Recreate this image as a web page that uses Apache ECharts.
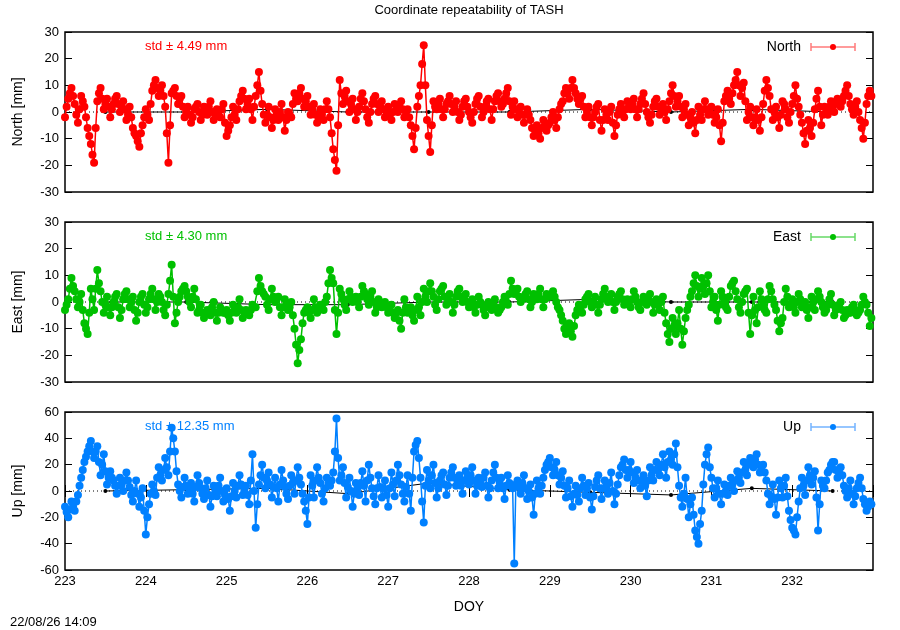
<!DOCTYPE html>
<html>
<head>
<meta charset="utf-8">
<title>Coordinate repeatability of TASH</title>
<script src="https://cdn.jsdelivr.net/npm/echarts@6/dist/echarts.min.js"></script>
<style>
    html, body {margin: 0; padding: 0; background: #fff;}
    #chart {width: 900px; height: 630px;}
</style>
</head>
<body>
<div id="chart"></div>
<script>
// sampling: 25 values per day at DOY + k*0.04 (arrays nXXX),
// plus 25 values per day at the half steps DOY + k*0.04 + 0.02 (arrays nXXXb)
var startDoy = 223;
var step = 0.04;

// North [mm]
var n223 = [-2, 5, 9, 3, -4, 6, 2, -6, -12, -19, 4, 9, 1, 5, -2, 3, 6, 0, 4, -3, 2, -6, -9, -13, -5];
var n223b = [2, 7, 6, -1, 1, 4, -2, -9, -16, -6, 7, 5, 3, 2, 1, 5, 3, 2, 1, -1, -2, -8, -11, -8, -2];
var n224 = [1, -3, 8, 12, 6, 10, 2, -19, 7, 9, 3, 6, -2, 2, -4, 1, 3, -3, 2, -1, 4, -3, 1, -2, 3];
var n224b = [-1, 3, 10, 9, 8, 6, -8, -5, 8, 6, 5, 2, 0, -1, -2, 2, 0, -1, 1, 2, 0, -1, -1, 1, -4];
var n225 = [-9, -5, 2, -3, 4, 8, 1, 5, -3, 6, 15, 3, -4, 2, -6, 1, -3, 3, -7, 0, -2, 7, 4, 9, 2];
var n225b = [-7, -2, -1, 1, 6, 5, 3, 1, 2, 10, 8, -1, -1, -2, -3, -1, 0, -2, -3, -1, 3, 5, 7, 5, 4];
var n226 = [6, -1, 3, -4, 1, -3, 4, -2, -14, -22, 12, 3, 8, 0, 5, -3, 2, 7, 1, -4, 3, 6, 0, 4, -2];
var n226b = [2, 1, -1, -2, -1, 1, 1, -8, -18, -5, 7, 6, 4, 3, 1, 0, 5, 4, -2, 0, 5, 3, 2, 1, 0];
var n227 = [2, -3, 3, 0, 4, -2, 1, -5, -14, 2, 10, 25, -3, -15, 4, 1, 5, -2, 3, 6, 0, 4, -3, 2, 5];
var n227b = [-1, 0, 1, 2, 1, -1, -2, -9, -6, 6, 18, 10, -9, -5, 2, 3, 1, 1, 4, 3, 2, 0, -1, 4, 2];
var n228 = [0, -4, 3, 6, -2, 2, 5, -3, 4, 7, 2, 5, 9, -1, 4, -2, 2, -4, 1, -3, -9, -5, -10, -3, -7];
var n228b = [-2, 0, 5, 2, 0, 4, 1, 1, 6, 4, 3, 7, 4, 2, 1, 0, -1, -1, -1, -6, -7, -8, -6, -5, -5];
var n229 = [-4, 0, -6, 1, 4, 9, 5, 12, 7, 3, 6, -2, 2, -5, 0, 3, -7, 1, -3, 2, -9, -1, 3, -2, 4];
var n229b = [-2, -3, -2, 3, 7, 7, 9, 9, 5, 5, 2, 0, -2, -2, 2, -3, -3, -1, 0, -4, -5, 1, 0, 1, 2];
var n230 = [1, 5, -2, 3, 7, 0, -4, 2, 5, -1, 3, -3, 4, 10, 2, 6, -2, 3, -5, 0, -8, 2, -3, 4, -1];
var n230b = [3, 1, 1, 5, 3, -2, -1, 4, 2, 1, 0, 1, 7, 6, 4, 2, 1, -1, -2, -4, -3, -1, 1, 1, 1];
var n231 = [2, -4, 1, -11, 4, 8, 3, 10, 15, 6, 11, -3, 2, -5, 1, -7, 3, 12, 6, -3, 2, -6, 4, 1, -4];
var n231b = [-1, -2, -5, -4, 6, 5, 7, 12, 10, 9, 4, 0, -2, -2, -3, -2, 8, 9, 1, 0, -2, -1, 3, -2, 0];
var n232 = [3, 10, 2, -4, -12, -3, -9, 1, 8, -5, 2, -1, 4, 0, 5, 2, 6, 10, 3, -1, 4, -3, -10, 3, 8];
var n232b = [6, 5, -1, -8, -7, -6, -4, 5, 2, -1, 0, 2, 1, 3, 3, 4, 8, 6, 1, 2, 0, -6, -4, 6, 6];

// East [mm]
var e223 = [-3, 1, 9, 4, -2, 3, -8, -12, 5, -3, 12, 4, -4, 2, -5, 0, 3, -6, 1, 4, -2, 2, -7, 0, 3];
var e223b = [-1, 5, 6, 1, 0, -3, -10, -4, 1, 5, 7, 0, -1, -2, -2, 2, -2, -3, 3, 1, 0, -3, -4, 2, -1];
var e224 = [-4, 1, 5, -3, 3, 0, -5, 3, 14, -8, 0, 4, 6, 2, -2, 5, -4, -1, -6, -3, -5, 0, -7, -2, -4];
var e224b = [-2, 3, 1, 0, 2, -3, -1, 8, 2, -4, 2, 5, 4, 0, 2, 1, -3, -4, -4, -4, -2, -4, -4, -3, -4];
var e225 = [-3, -7, -1, -4, 1, -6, -3, -5, -1, -2, 9, 4, 2, -3, 5, 0, 2, -5, 1, -3, 0, -10, -23, -14, -4];
var e225b = [-5, -4, -3, -2, -3, -4, -4, -3, -2, 4, 6, 3, -1, 1, 2, 1, -2, -2, -1, -2, -5, -16, -18, -8, -3];
var e226 = [-2, -6, 1, -4, -1, -3, 2, 12, 7, -12, 5, 1, -3, 4, 0, 2, -2, 6, 3, -1, 4, -4, 1, -2, 0];
var e226b = [-4, -3, -2, -3, -2, 0, 7, 9, -3, -4, 3, -1, 1, 2, 1, 0, 2, 4, 1, 2, 0, -2, 0, -1, -2];
var e227 = [-4, -1, -6, -3, -10, 1, -4, -2, -7, 2, -5, 5, 0, 7, 2, -3, 4, 6, -1, 3, -4, 2, 5, 0, 3];
var e227b = [-2, -4, -4, -7, -4, -2, -3, -5, -3, -2, 0, 2, 4, 4, -1, 1, 5, 2, 1, 0, -1, 4, 2, 1, 0];
var e228 = [-2, 1, -4, 2, -1, -5, 0, -3, 1, -4, -2, 2, -1, 8, 3, 5, 0, 2, 4, -2, 3, 1, 5, -2, 3];
var e228b = [-1, -2, -1, 0, -3, -2, -1, -1, -2, -3, 0, 0, 3, 5, 4, 2, 1, 3, 1, 0, 2, 3, 1, 1, 2];
var e229 = [2, 4, 0, -3, -7, -12, -8, -13, -5, -1, -4, 1, 3, -2, 2, -4, 1, 5, 0, 3, -3, 2, 4, -1, 1];
var e229b = [3, 2, -2, -5, -10, -9, -11, -9, -3, -3, -1, 2, 0, 0, -1, -1, 3, 2, 1, 0, 0, 3, 1, 0, -1];
var e230 = [-2, 4, 0, -3, 2, -1, 3, -4, 1, -3, 2, -8, -15, -6, -12, -3, -16, -6, -1, 4, 10, 2, 9, 3, 10];
var e230b = [1, 2, -2, 0, 0, 1, 0, -1, -1, 0, -4, -12, -10, -9, -8, -10, -11, -3, 2, 7, 6, 5, 6, 7, 4];
var e231 = [-2, 2, -7, 4, 0, -3, 6, 8, 1, -4, 3, 5, -12, 2, -8, 4, -1, -4, 6, 1, -3, -11, -6, 5, -2];
var e231b = [0, -3, -1, 2, -2, 2, 7, 4, -2, 0, 4, -4, -5, -3, -2, 1, -3, 1, 4, -1, -7, -8, 0, 2, -1];
var e232 = [1, -4, 3, -2, 0, -6, 2, -3, 4, 0, -4, -1, 3, -5, -2, 0, -6, -3, -4, -1, -5, -3, 2, -1, -9];
var e232b = [-2, 0, 1, -1, -3, -2, 0, 1, 2, -2, -3, 1, -1, -3, -1, -3, -5, -4, -2, -3, -4, -1, 0, -4, -6];

// Up [mm]
var u223 = [-12, -20, -8, -15, -3, 10, 22, 30, 38, 25, 34, 12, 28, 5, 15, 8, -2, 10, 0, 14, 3, -8, 8, -12, 2];
var u223b = [-16, -14, -12, -8, 4, 16, 26, 34, 30, 30, 22, 20, 15, 10, 10, 4, 4, 5, 8, 8, -3, 0, -2, -5, -15];
var u224 = [-33, -10, 5, -3, 18, 8, 25, 12, 48, 30, 5, -5, 10, -2, 6, -8, 12, 2, -6, 8, -12, 4, -4, 10, -8];
var u224b = [-20, -2, 0, 10, 12, 16, 18, 30, 40, 15, 0, 3, 4, 2, -2, 3, 6, -2, 2, -3, -4, 0, 4, 0, -3];
var u225 = [2, -15, 6, -5, 12, -3, 4, -10, 28, -28, 5, 20, 2, 14, -5, 10, -8, 16, 3, -6, 12, -2, 18, 5, -8];
var u225b = [-6, -4, 0, 4, 5, 0, -3, 8, 0, -10, 12, 10, 8, 5, 3, 2, 5, 8, -2, 4, 6, 8, 10, -2, -15];
var u226 = [-25, 12, -5, 18, 6, -8, 10, 4, 14, 55, 8, 18, -5, 10, -12, 6, -3, 15, -8, 20, 2, -10, 12, -5, 8];
var u226b = [-5, 4, 8, 10, -2, 2, 6, 8, 30, 25, 12, 6, 3, 0, -2, 2, 6, 4, 8, 10, -4, 2, 3, 2, -3];
var u227 = [-12, 14, -4, 20, 5, -8, 12, -15, 30, 38, 10, -24, 16, 2, 20, -5, 8, 14, -3, 10, 18, 4, 12, -2, 15];
var u227b = [2, 5, 8, 12, -2, 3, -2, 10, 35, 25, -8, 4, 8, 12, 6, 2, 12, 5, 4, 14, 10, 8, 4, 8, 10];
var u228 = [5, 18, -2, 10, 3, 14, -5, 8, 20, 2, 10, -6, 12, 4, -55, 8, -2, 12, -6, 5, -18, 8, -2, 10, 20];
var u228b = [12, 8, 4, 6, 10, 4, 2, 14, 10, 6, 2, 4, 6, 2, 5, 3, 6, 2, 0, -5, -2, 2, 4, 16, 22];
var u229 = [25, 12, 22, 5, 15, -5, 8, -12, 4, -8, 10, -3, 6, -14, 3, 12, -6, 8, -2, 14, -10, 5, 18, 24, 10];
var u229b = [18, 16, 12, 10, 4, 2, -4, -2, -3, 2, 4, 2, -5, -4, 8, 2, 2, 3, 6, 0, -2, 12, 20, 16, 16];
var u230 = [22, 6, 16, 2, 12, -4, 18, 8, 22, 12, 28, 10, 30, 20, 36, 4, -12, 10, -20, -5, -30, -40, -15, 20, 33];
var u230b = [14, 10, 8, 8, 4, 8, 12, 16, 16, 20, 18, 22, 24, 28, 18, -5, -2, -6, -10, -18, -35, -25, 5, 28, 18];
var u231 = [10, -5, 8, -10, 5, -3, 10, 0, 15, 6, 22, 12, 25, 18, 28, 14, 20, 8, -10, 5, -18, 8, -5, 10, -15];
var u231b = [2, 2, -2, -2, 0, 4, 5, 8, 10, 14, 16, 20, 22, 24, 20, 16, 14, -2, -4, -6, -5, 2, 4, -4, -22];
var u232 = [-28, -33, -8, 10, -3, 18, 5, 15, -30, 8, 2, 14, 20, 22, 10, 18, 4, -5, 8, -10, 2, 10, -6, -15, -8];
var u232b = [-30, -20, 2, 4, 8, 12, 10, -5, -10, 4, 8, 16, 22, 16, 14, 12, 0, 2, -2, -4, 6, 2, -10, -12, -10];

// daily solutions (black)
var dailyDoy = [223.5, 224.5, 225.5, 226.5, 227.5, 228.5, 229.5, 230.5, 231.5, 232.5];
var dailyNorth = [0, 0, 1, 0, 0, 0, 1, 0, 1, 0];
var dailyEast = [0, 0, -1, -1, 0, 0, 1, 0, 0, 0];
var dailyUp = [0, 1, 2, -2, 6, 1, -1, -3, 2, 0];

var xTicks = [223, 224, 225, 226, 227, 228, 229, 230, 231, 232];

var north = n223.concat(n224, n225, n226, n227, n228, n229, n230, n231, n232);
var northB = n223b.concat(n224b, n225b, n226b, n227b, n228b, n229b, n230b, n231b, n232b);
var east = e223.concat(e224, e225, e226, e227, e228, e229, e230, e231, e232);
var eastB = e223b.concat(e224b, e225b, e226b, e227b, e228b, e229b, e230b, e231b, e232b);
var up = u223.concat(u224, u225, u226, u227, u228, u229, u230, u231, u232);
var upB = u223b.concat(u224b, u225b, u226b, u227b, u228b, u229b, u230b, u231b, u232b);

var panels = [
    {name: 'North', color: '#ff0000', light: '#ff7a7a', values: north, half: northB, daily: dailyNorth, std: 'std \u00b1 4.49 mm', min: -30, max: 30, interval: 10, top: 32, height: 160},
    {name: 'East', color: '#00c000', light: '#66d966', values: east, half: eastB, daily: dailyEast, std: 'std \u00b1 4.30 mm', min: -30, max: 30, interval: 10, top: 222, height: 160},
    {name: 'Up', color: '#0080ff', light: '#73b3ff', values: up, half: upB, daily: dailyUp, std: 'std \u00b1 12.35 mm', min: -60, max: 60, interval: 20, top: 412, height: 158}
];

var font = 'Liberation Sans, Arial, Helvetica, sans-serif';
var plotLeft = 65, plotRight = 873;

// merge the two sample arrays into one time ordered list of [doy, value]
function toPairs(values, half) {
    var d = [];
    for (var i = 0; i < values.length; i++) {
        var t = startDoy + i * step;
        d.push([Number(t.toFixed(2)), values[i]]);
        d.push([Number((t + step / 2).toFixed(2)), half[i]]);
    }
    return d;
}

function zip(xs, ys) {
    var d = [];
    for (var i = 0; i < xs.length; i++) d.push([xs[i], ys[i]]);
    return d;
}

var option = {
    animation: false,
    backgroundColor: '#fff',
    grid: [],
    xAxis: [],
    yAxis: [],
    series: [],
    graphic: []
};

panels.forEach(function (p, k) {
    var last = (k == panels.length - 1);
    option.grid.push({
        left: plotLeft, right: 900 - plotRight, top: p.top, height: p.height,
        show: true, borderColor: '#000', borderWidth: 1.5, backgroundColor: 'transparent'
    });
    // bottom x axis
    option.xAxis.push({
        type: 'value', gridIndex: k, min: 223, max: 233, interval: 1,
        position: 'bottom',
        name: last ? 'DOY' : '', nameLocation: 'middle', nameGap: 30,
        nameTextStyle: {fontFamily: font, fontSize: 14, color: '#000'},
        axisLine: {show: false},
        axisTick: {show: last, inside: true, length: 6, lineStyle: {color: '#000', width: 1}},
        axisLabel: {
            show: last, fontFamily: font, fontSize: 13, color: '#000', margin: 5,
            formatter: function (v) { return xTicks.indexOf(v) >= 0 ? String(v) : ''; }
        },
        splitLine: {show: false}
    });
    // top x axis (ticks only)
    option.xAxis.push({
        type: 'value', gridIndex: k, min: 223, max: 233, interval: 1,
        position: 'top',
        axisLine: {show: false},
        axisTick: {show: last, inside: true, length: 6, lineStyle: {color: '#000', width: 1}},
        axisLabel: {show: false},
        splitLine: {show: false}
    });
    option.yAxis.push({
        type: 'value', gridIndex: k, min: p.min, max: p.max, interval: p.interval,
        position: 'left',
        name: p.name + ' [mm]', nameLocation: 'middle', nameGap: 40,
        nameTextStyle: {fontFamily: font, fontSize: 14, color: '#000'},
        axisLine: {show: false},
        axisTick: {inside: true, length: 7, lineStyle: {color: '#000', width: 1}},
        axisLabel: {fontFamily: font, fontSize: 13, color: '#000', margin: 6},
        splitLine: {show: false}
    });
    option.yAxis.push({
        type: 'value', gridIndex: k, min: p.min, max: p.max, interval: p.interval,
        position: 'right',
        axisLine: {show: false},
        axisTick: {inside: true, length: 7, lineStyle: {color: '#000', width: 1}},
        axisLabel: {show: false},
        splitLine: {show: false}
    });

    // dotted zero line
    option.series.push({
        type: 'line', xAxisIndex: k * 2, yAxisIndex: k * 2, z: 1,
        data: [[223, 0], [233, 0]], symbol: 'none', silent: true,
        lineStyle: {color: '#000', width: 1, type: [1, 3]}
    });
    // daily solutions
    option.series.push({
        type: 'line', xAxisIndex: k * 2, yAxisIndex: k * 2, z: 2,
        data: zip(dailyDoy, p.daily), symbol: 'circle', symbolSize: 4,
        itemStyle: {color: '#000'}, lineStyle: {color: '#000', width: 1}
    });
    // repeatability series
    option.series.push({
        name: p.name, type: 'line', xAxisIndex: k * 2, yAxisIndex: k * 2, z: 3,
        data: toPairs(p.values, p.half), symbol: 'circle', symbolSize: 8, showAllSymbol: true,
        itemStyle: {color: p.color}, lineStyle: {color: p.color, width: 1.5}
    });

    // std text
    option.graphic.push({
        type: 'text', left: 145, top: p.top + 8,
        style: {text: p.std, fill: p.color, font: '13px ' + font}
    });
    // key, gnuplot style
    var ky = p.top + 15;
    option.graphic.push({
        type: 'text', x: 801, y: ky,
        style: {text: p.name, fill: '#000', font: '14px ' + font, align: 'right', verticalAlign: 'middle'}
    });
    option.graphic.push({type: 'line', shape: {x1: 811, y1: ky, x2: 855, y2: ky}, style: {stroke: p.light, lineWidth: 1.5}});
    option.graphic.push({type: 'line', shape: {x1: 811, y1: ky - 4, x2: 811, y2: ky + 4}, style: {stroke: p.light, lineWidth: 1.5}});
    option.graphic.push({type: 'line', shape: {x1: 855, y1: ky - 4, x2: 855, y2: ky + 4}, style: {stroke: p.light, lineWidth: 1.5}});
    option.graphic.push({type: 'circle', shape: {cx: 833, cy: ky, r: 3}, style: {fill: p.color}});
});

option.graphic.push({
    type: 'text', x: 469, y: 10,
    style: {text: 'Coordinate repeatability of TASH', fill: '#000', font: '13px ' + font, align: 'center', verticalAlign: 'middle'}
});
option.graphic.push({
    type: 'text', x: 10, y: 622,
    style: {text: '22/08/26 14:09', fill: '#000', font: '13px ' + font, verticalAlign: 'middle'}
});

var myChart = echarts.init(document.getElementById('chart'));
myChart.setOption(option);
</script>
</body>
</html>
